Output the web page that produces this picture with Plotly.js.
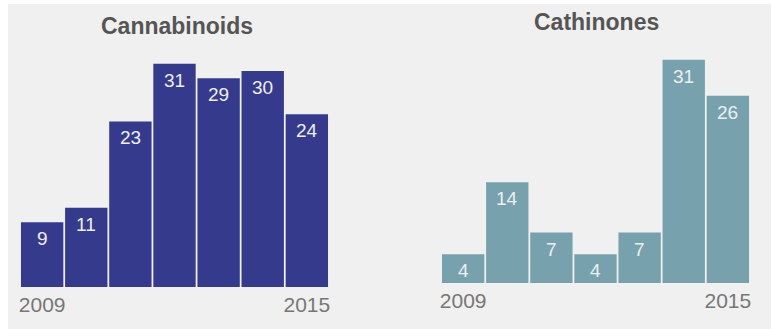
<!DOCTYPE html>
<html>
<head>
<meta charset="utf-8">
<script src="https://cdn.plot.ly/plotly-3.0.1.min.js"></script>
<style>html,body{margin:0;padding:0;background:#fff;}#chart{width:771px;height:329px;}</style>
</head>
<body>
<div id="chart"></div>
<script>
const years = [2009, 2010, 2011, 2012, 2013, 2014, 2015];
const cannabinoids = [9, 11, 23, 31, 29, 30, 24];
const cathinones = [4, 14, 7, 4, 7, 31, 26];
const panelTitles = ["Cannabinoids", "Cathinones"];
const tickYears = [2009, 2015];
const tickLabels = ["2009", "2015"];

const colLeft = "#363a8c";
const colRight = "#77a2ad";
const FONT = "Liberation Sans, Arial, sans-serif";

const traces = [
  {type: "bar", x: years, y: cannabinoids, xaxis: "x", yaxis: "y",
   marker: {color: colLeft}, hoverinfo: "skip"},
  {type: "bar", x: years, y: cathinones, xaxis: "x2", yaxis: "y2",
   marker: {color: colRight}, hoverinfo: "skip"}
];

const annotations = [];
function addLabels(vals, xr, yr) {
  vals.forEach((v, i) => {
    annotations.push({x: years[i], y: v, xref: xr, yref: yr, text: String(v),
      showarrow: false, yanchor: "top", xanchor: "center", yshift: -4,
      font: {family: FONT, size: 19, color: "#eeeef4"}});
  });
}
addLabels(cannabinoids, "x", "y");
addLabels(cathinones, "x2", "y2");

annotations.push({x: 177 / 771, y: (329 - 26) / 329, xref: "paper", yref: "paper",
  text: "<b>" + panelTitles[0] + "</b>", showarrow: false, xanchor: "center", yanchor: "middle",
  font: {family: FONT, size: 23, color: "#555555"}});
annotations.push({x: 596 / 771, y: (329 - 22) / 329, xref: "paper", yref: "paper",
  text: "<b>" + panelTitles[1] + "</b>", showarrow: false, xanchor: "center", yanchor: "middle",
  font: {family: FONT, size: 23, color: "#555555"}});

const xCommon = {range: [2008.5, 2015.5], tickvals: tickYears, ticktext: tickLabels,
  showgrid: false, zeroline: false, showline: false, ticks: "", ticklabelstandoff: 3,
  tickfont: {family: FONT, size: 21, color: "#777777"},
  fixedrange: true};
const yCommon = {range: [0, 35], showgrid: false, zeroline: false, showline: false,
  showticklabels: false, ticks: "", fixedrange: true};

const layout = {
  width: 771, height: 329,
  margin: {l: 0, r: 0, t: 0, b: 0},
  paper_bgcolor: "#ffffff", plot_bgcolor: "rgba(0,0,0,0)",
  showlegend: false, bargap: 0.04,
  xaxis: Object.assign({}, xCommon, {domain: [20.1 / 771, 328.9 / 771], anchor: "y"}),
  xaxis2: Object.assign({}, xCommon, {domain: [441.1 / 771, 749.9 / 771], anchor: "y2"}),
  yaxis: Object.assign({}, yCommon, {domain: [(329 - 287) / 329, (329 - 35) / 329], anchor: "x"}),
  yaxis2: Object.assign({}, yCommon, {domain: [(329 - 283) / 329, (329 - 31) / 329], anchor: "x2"}),
  shapes: [{type: "rect", xref: "paper", yref: "paper", x0: 8 / 771, x1: 1, y0: 0, y1: (329 - 4) / 329,
    fillcolor: "#f0f0f0", line: {width: 0}, layer: "below"}],
  annotations: annotations
};

Plotly.newPlot("chart", traces, layout, {displayModeBar: false, staticPlot: true});
</script>
</body>
</html>
